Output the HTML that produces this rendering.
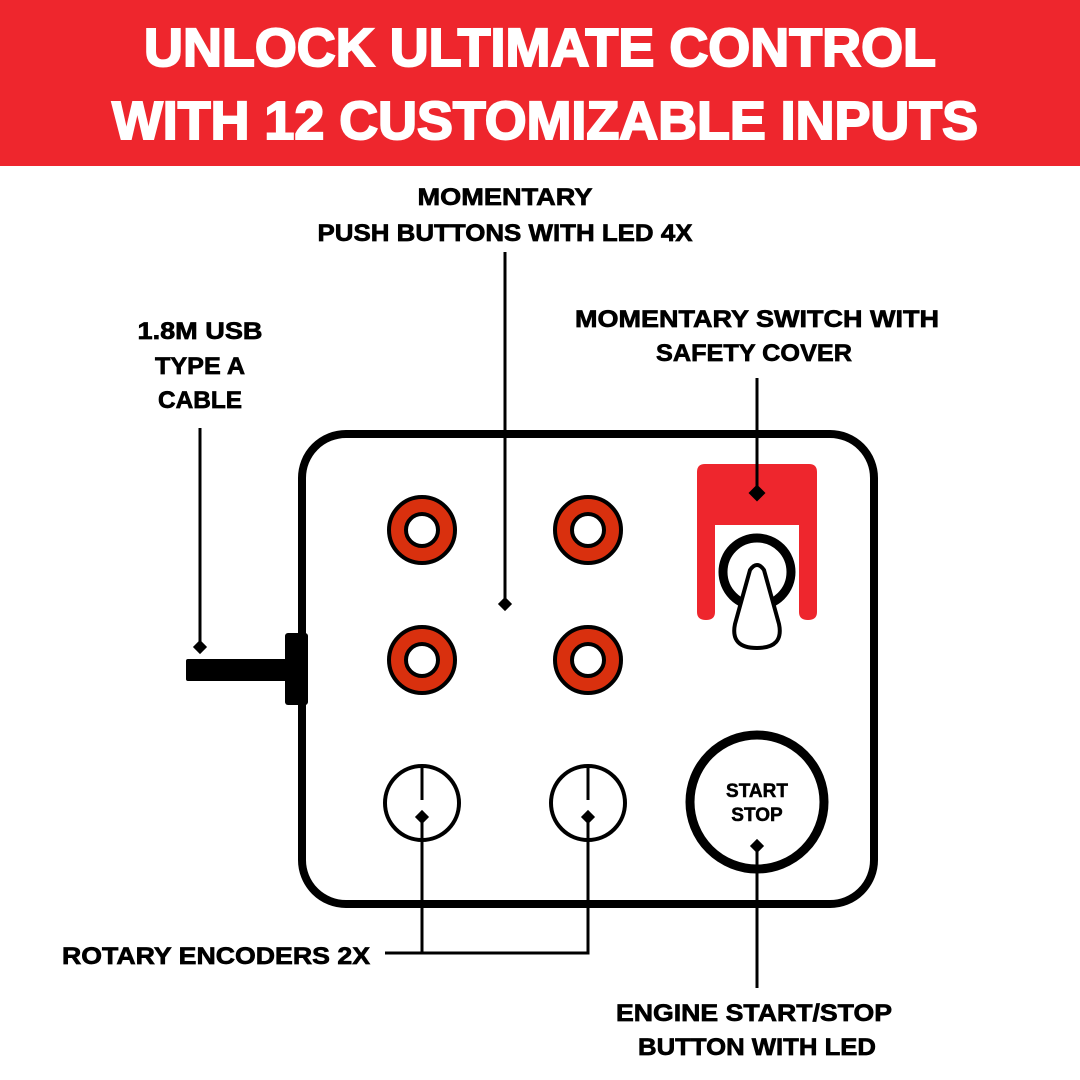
<!DOCTYPE html>
<html><head><meta charset="utf-8"><style>
html,body{margin:0;padding:0;background:#fff}
svg{display:block}
text{font-family:"Liberation Sans",sans-serif;font-weight:bold}
</style></head><body>
<svg width="1080" height="1080" viewBox="0 0 1080 1080" xmlns="http://www.w3.org/2000/svg">
<rect x="0" y="0" width="1080" height="166" fill="#ee262d"/>
<text x="540" y="66" fill="#fff" stroke="#fff" stroke-width="2" font-size="54" text-anchor="middle" textLength="792" lengthAdjust="spacingAndGlyphs">UNLOCK ULTIMATE CONTROL</text>
<text x="545" y="139" fill="#fff" stroke="#fff" stroke-width="2" font-size="54" text-anchor="middle" textLength="866" lengthAdjust="spacingAndGlyphs">WITH 12 CUSTOMIZABLE INPUTS</text>

<g fill="#000" stroke="#000" stroke-width="0.7" font-size="24">
<text x="505" y="205" text-anchor="middle" textLength="175" lengthAdjust="spacingAndGlyphs">MOMENTARY</text>
<text x="505" y="241" text-anchor="middle" textLength="375" lengthAdjust="spacingAndGlyphs">PUSH BUTTONS WITH LED 4X</text>
<text x="200" y="339" text-anchor="middle" textLength="125" lengthAdjust="spacingAndGlyphs">1.8M USB</text>
<text x="200" y="374" text-anchor="middle" textLength="90" lengthAdjust="spacingAndGlyphs">TYPE A</text>
<text x="200" y="408" text-anchor="middle" textLength="84" lengthAdjust="spacingAndGlyphs">CABLE</text>
<text x="757" y="327" text-anchor="middle" textLength="364" lengthAdjust="spacingAndGlyphs">MOMENTARY SWITCH WITH</text>
<text x="754" y="361" text-anchor="middle" textLength="196" lengthAdjust="spacingAndGlyphs">SAFETY COVER</text>
<text x="62" y="964" textLength="308" lengthAdjust="spacingAndGlyphs">ROTARY ENCODERS 2X</text>
<text x="754" y="1021" text-anchor="middle" textLength="276" lengthAdjust="spacingAndGlyphs">ENGINE START/STOP</text>
<text x="757" y="1055" text-anchor="middle" textLength="238" lengthAdjust="spacingAndGlyphs">BUTTON WITH LED</text>
</g>

<rect x="302" y="434" width="572" height="470" rx="44" fill="none" stroke="#000" stroke-width="8"/>

<rect x="186" y="659" width="110" height="22" rx="2" fill="#000"/>
<rect x="285" y="633" width="23" height="72" rx="3" fill="#000"/>
<line x1="200" y1="428" x2="200" y2="645" stroke="#000" stroke-width="3"/>
<rect x="195" y="642" width="10" height="10" transform="rotate(45 200 647)" fill="#000"/>

<g stroke="#000" stroke-width="4">
<circle cx="422" cy="530" r="33" fill="#d9300e"/><circle cx="422" cy="530" r="16" fill="#fff"/>
<circle cx="588" cy="530" r="33" fill="#d9300e"/><circle cx="588" cy="530" r="16" fill="#fff"/>
<circle cx="422" cy="660" r="33" fill="#d9300e"/><circle cx="422" cy="660" r="16" fill="#fff"/>
<circle cx="588" cy="660" r="33" fill="#d9300e"/><circle cx="588" cy="660" r="16" fill="#fff"/>
</g>
<line x1="505" y1="252" x2="505" y2="600" stroke="#000" stroke-width="3"/>
<rect x="500" y="599" width="10" height="10" transform="rotate(45 505 604)" fill="#000"/>

<path d="M705 464 H809 Q817 464 817 472 V612 Q817 620 808 620 Q799 620 799 612 V525 H715 V612 Q715 620 706 620 Q697 620 697 612 V472 Q697 464 705 464 Z" fill="#ee262d"/>
<line x1="757" y1="378" x2="757" y2="490" stroke="#000" stroke-width="3"/>
<rect x="751" y="487" width="12" height="12" transform="rotate(45 757 493)" fill="#000"/>
<circle cx="757" cy="572" r="34" fill="none" stroke="#000" stroke-width="9"/>
<path d="M750 570 Q757 560 764 570 L779 624 Q784 648 757 648 Q730 648 735 624 Z" fill="#fff" stroke="#000" stroke-width="4" stroke-linejoin="round"/>

<g stroke="#000" fill="none">
<circle cx="422" cy="803" r="37" stroke-width="4"/>
<circle cx="588" cy="803" r="37" stroke-width="4"/>
<line x1="422" y1="766" x2="422" y2="800" stroke-width="3"/>
<line x1="588" y1="766" x2="588" y2="800" stroke-width="3"/>
<path d="M422 817 V953 H588 V817" stroke-width="3"/>
<line x1="385" y1="953" x2="422" y2="953" stroke-width="3"/>
</g>
<rect x="417" y="812" width="10" height="10" transform="rotate(45 422 817)" fill="#000"/>
<rect x="583" y="812" width="10" height="10" transform="rotate(45 588 817)" fill="#000"/>

<circle cx="757" cy="802" r="67" fill="none" stroke="#000" stroke-width="9"/>
<text x="757" y="797" font-size="19" text-anchor="middle" fill="#000" stroke="#000" stroke-width="0.5">START</text>
<text x="757" y="821" font-size="19" text-anchor="middle" fill="#000" stroke="#000" stroke-width="0.5">STOP</text>
<line x1="757" y1="845" x2="757" y2="988" stroke="#000" stroke-width="3"/>
<rect x="752" y="841" width="10" height="10" transform="rotate(45 757 846)" fill="#000"/>
</svg>
</body></html>
